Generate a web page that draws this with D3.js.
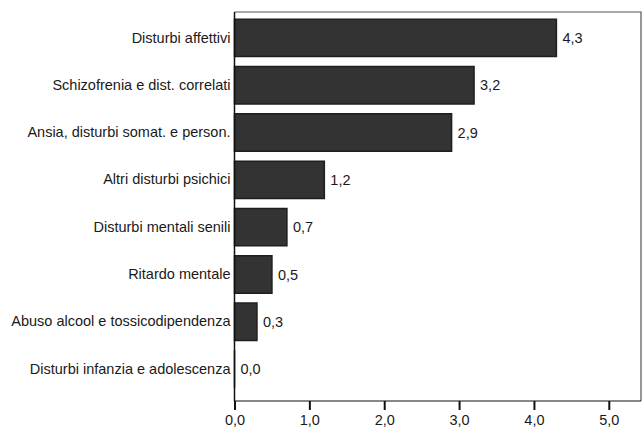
<!DOCTYPE html>
<html>
<head>
<meta charset="utf-8">
<script src="https://cdn.jsdelivr.net/npm/d3@7"></script>
<style>
  html, body { margin: 0; padding: 0; background: #fff; }
  svg { display: block; }
  text { font-family: "Liberation Sans", Arial, sans-serif; fill: #1a1a1a; }
</style>
</head>
<body>
<svg id="chart" width="642" height="428"></svg>
<script>
// Diagnostic categories, top to bottom
const categories = [
  "Disturbi affettivi",
  "Schizofrenia e dist. correlati",
  "Ansia, disturbi somat. e person.",
  "Altri disturbi psichici",
  "Disturbi mentali senili",
  "Ritardo mentale",
  "Abuso alcool e tossicodipendenza",
  "Disturbi infanzia e adolescenza"
];
const values = [4.3, 3.2, 2.9, 1.2, 0.7, 0.5, 0.3, 0.0];
const tickValues = [0, 1, 2, 3, 4, 5];

const fmt = v => d3.format(".1f")(v).replace(".", ",");
const FONT = 14.5;

const svg = d3.select("#chart");
const frame = { left: 234.5, top: 12, right: 641, bottom: 401 };

const x = d3.scaleLinear().domain([0, 5]).range([frame.left, 608.8]);
const y = d3.scaleBand().domain(categories).range([14.5, 392.5]).paddingInner(0.21).paddingOuter(0.1);

// plot frame (top and right edges)
svg.append("path")
  .attr("d", `M${frame.left},${frame.top}H${frame.right}V${frame.bottom}`)
  .attr("fill", "none").attr("stroke", "#555").attr("stroke-width", 1.2);

// bars drawn as outlined paths so a zero value still shows its edge
svg.append("g").selectAll("path").data(values).join("path")
  .attr("d", (d, i) => {
    const x0 = x(0), y0 = y(categories[i]), w = x(d) - x(0), h = y.bandwidth();
    return `M${x0},${y0}h${w}v${h}h${-w}Z`;
  })
  .attr("fill", "#333333")
  .attr("stroke", "#1e1e1e")
  .attr("stroke-width", 1.5);

// value labels
svg.append("g").selectAll("text").data(values).join("text")
  .attr("x", d => x(d) + 6)
  .attr("y", (d, i) => y(categories[i]) + y.bandwidth() / 2)
  .attr("dy", "0.35em")
  .attr("font-size", FONT)
  .text(d => fmt(d));

// category axis
const yAxis = svg.append("g")
  .attr("transform", `translate(${frame.left},0)`)
  .call(d3.axisLeft(y).tickSize(0).tickPadding(4));
yAxis.select(".domain").attr("stroke", "#111").attr("stroke-width", 1.5)
  .attr("d", `M0,${frame.top}V${frame.bottom}`);
yAxis.selectAll("text").attr("font-size", FONT).attr("fill", "#1a1a1a")
  .attr("font-family", "Liberation Sans, Arial, sans-serif");

// value axis
const xAxis = svg.append("g")
  .attr("transform", `translate(0,${frame.bottom})`)
  .call(d3.axisBottom(x).tickValues(tickValues).tickSize(9).tickPadding(5).tickFormat(fmt));
xAxis.select(".domain").attr("stroke", "#111").attr("stroke-width", 1.2)
  .attr("d", `M${frame.left},0H${frame.right}`);
xAxis.selectAll(".tick line").attr("stroke", "#111").attr("stroke-width", 2);
xAxis.selectAll("text").attr("font-size", FONT).attr("fill", "#1a1a1a")
  .attr("font-family", "Liberation Sans, Arial, sans-serif");
</script>
</body>
</html>
